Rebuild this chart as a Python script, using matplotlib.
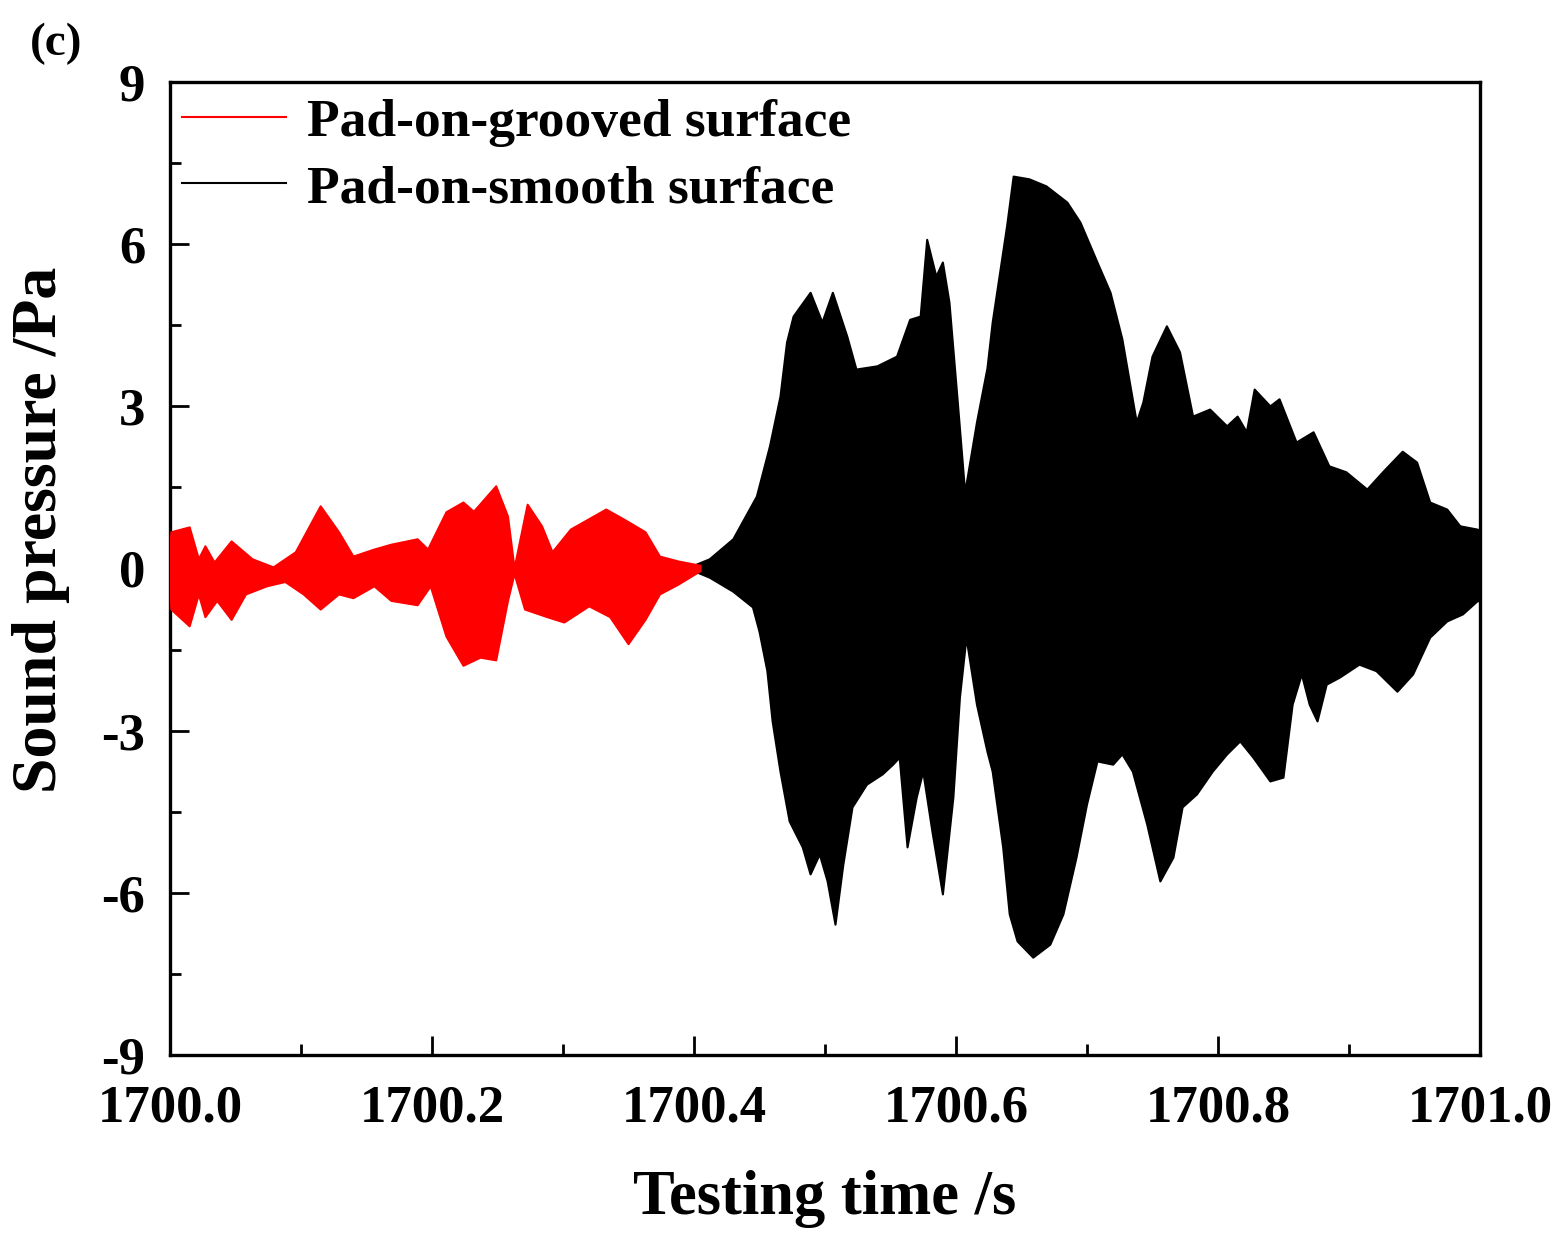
import numpy as np
import matplotlib
matplotlib.use('Agg')
import matplotlib.pyplot as plt
from matplotlib.lines import Line2D
from matplotlib.ticker import MultipleLocator

# envelope of the pad-on-grooved signal (time offset from 1700 s, Pa)
red_t_up = [0.000, 0.001, 0.015, 0.022, 0.027, 0.034, 0.047, 0.063, 0.079, 0.096, 0.115,
            0.129, 0.140, 0.156, 0.169, 0.189, 0.197, 0.211, 0.224, 0.232, 0.249,
            0.258, 0.263, 0.273, 0.284, 0.292, 0.306, 0.333, 0.347, 0.363, 0.374,
            0.388, 0.405]
red_v_up = [0.30, 0.67, 0.76, 0.17, 0.41, 0.11, 0.50, 0.17, 0.02, 0.30, 1.15,
            0.67, 0.22, 0.35, 0.44, 0.54, 0.35, 1.04, 1.22, 1.05, 1.52,
            0.96, 0.00, 1.18, 0.78, 0.30, 0.72, 1.09, 0.90, 0.67, 0.22,
            0.13, 0.05]
red_t_lo = [0.000, 0.001, 0.015, 0.022, 0.027, 0.036, 0.047, 0.058, 0.074, 0.088, 0.102,
            0.115, 0.129, 0.140, 0.156, 0.169, 0.189, 0.199, 0.211, 0.224, 0.237,
            0.249, 0.258, 0.263, 0.271, 0.288, 0.301, 0.320, 0.336, 0.350, 0.363,
            0.374, 0.388, 0.405]
red_v_lo = [-0.30, -0.76, -1.07, -0.48, -0.90, -0.60, -0.95, -0.48, -0.33, -0.25, -0.48,
            -0.76, -0.48, -0.55, -0.33, -0.60, -0.68, -0.33, -1.26, -1.80, -1.65,
            -1.70, -0.60, -0.10, -0.76, -0.90, -1.00, -0.70, -0.90, -1.40, -0.95,
            -0.48, -0.30, -0.05]

# envelope of the pad-on-smooth signal
blk_t_up = [0.400, 0.412, 0.430, 0.448, 0.458, 0.466, 0.471, 0.476, 0.489, 0.498, 0.506,
            0.517, 0.524, 0.540, 0.555, 0.565, 0.573, 0.578, 0.585, 0.590, 0.595,
            0.601, 0.607, 0.616, 0.624, 0.628, 0.639, 0.644, 0.656, 0.669, 0.685,
            0.695, 0.708, 0.718, 0.727, 0.738, 0.743, 0.750, 0.761, 0.771, 0.781,
            0.794, 0.807, 0.815, 0.822, 0.828, 0.840, 0.847, 0.860, 0.873, 0.885,
            0.898, 0.914, 0.926, 0.941, 0.952, 0.962, 0.975, 0.985, 0.998, 1.000]
blk_v_up = [0.05, 0.17, 0.54, 1.33, 2.26, 3.18, 4.18, 4.66, 5.10, 4.55, 5.10,
            4.29, 3.68, 3.74, 3.92, 4.60, 4.66, 6.08, 5.40, 5.66, 4.92,
            3.18, 1.40, 2.70, 3.70, 4.55, 6.33, 7.25, 7.20, 7.07, 6.77,
            6.40, 5.66, 5.10, 4.24, 2.70, 3.07, 3.92, 4.48, 4.00, 2.81,
            2.94, 2.63, 2.81, 2.52, 3.31, 3.00, 3.13, 2.33, 2.52, 1.89,
            1.78, 1.46, 1.78, 2.16, 1.96, 1.22, 1.09, 0.78, 0.72, 0.70]
blk_t_lo = [0.400, 0.412, 0.430, 0.445, 0.450, 0.456, 0.460, 0.466, 0.473, 0.483, 0.489,
            0.496, 0.502, 0.508, 0.514, 0.521, 0.532, 0.544, 0.552, 0.557, 0.563,
            0.570, 0.575, 0.582, 0.590, 0.598, 0.603, 0.608, 0.616, 0.624, 0.628,
            0.636, 0.641, 0.647, 0.659, 0.672, 0.682, 0.692, 0.700, 0.708, 0.720,
            0.727, 0.735, 0.746, 0.756, 0.766, 0.773, 0.784, 0.796, 0.807, 0.817,
            0.827, 0.840, 0.850, 0.857, 0.864, 0.870, 0.876, 0.883, 0.893, 0.908,
            0.921, 0.937, 0.949, 0.962, 0.975, 0.987, 0.998, 1.000]
blk_v_lo = [-0.05, -0.17, -0.43, -0.72, -1.17, -1.90, -2.83, -3.76, -4.68, -5.16, -5.66,
            -5.29, -5.79, -6.59, -5.48, -4.42, -4.00, -3.81, -3.63, -3.50, -5.16,
            -4.24, -3.76, -4.87, -6.03, -4.24, -2.39, -1.28, -2.52, -3.39, -3.76,
            -5.16, -6.40, -6.90, -7.20, -6.96, -6.40, -5.35, -4.37, -3.57, -3.63,
            -3.44, -3.76, -4.74, -5.79, -5.35, -4.42, -4.18, -3.76, -3.44, -3.20,
            -3.50, -3.94, -3.87, -2.52, -1.96, -2.52, -2.83, -2.15, -2.02, -1.78,
            -1.90, -2.28, -1.96, -1.28, -0.98, -0.85, -0.61, -0.60]

labels = ['Pad-on-grooved surface', 'Pad-on-smooth surface']
colors = ['#ff0000', '#000000']
t0 = 1700.0

plt.rcParams['font.family'] = 'Liberation Serif'
plt.rcParams['font.weight'] = 'bold'

fig = plt.figure(figsize=(15.6, 12.33), dpi=100)
ax = fig.add_axes([0.109, 0.1444, 0.8397, 0.7891])

for tu, vu, tl, vl, c in [(red_t_up, red_v_up, red_t_lo, red_v_lo, colors[0]),
                          (blk_t_up, blk_v_up, blk_t_lo, blk_v_lo, colors[1])]:
    xs = np.r_[np.array(tu), np.array(tl)[::-1]] + t0
    ys = np.r_[vu, vl[::-1]]
    ax.fill(xs, ys, facecolor=c, edgecolor=c, linewidth=1.5,
            joinstyle='round', zorder=2 if c == '#000000' else 3)

ax.set_xlim(1700.0, 1701.0)
ax.set_ylim(-9, 9)
ax.xaxis.set_major_locator(MultipleLocator(0.2))
ax.xaxis.set_minor_locator(MultipleLocator(0.1))
ax.yaxis.set_major_locator(MultipleLocator(3))
ax.yaxis.set_minor_locator(MultipleLocator(1.5))
ax.xaxis.set_major_formatter(plt.FuncFormatter(lambda v, p: f'{v:.1f}'))
ax.yaxis.set_major_formatter(plt.FuncFormatter(lambda v, p: f'{v:.0f}'))

ax.tick_params(which='both', direction='in', width=2, labelsize=38)
ax.tick_params(which='major', length=14)
ax.tick_params(which='minor', length=8)
ax.tick_params(axis='x', pad=21)
ax.tick_params(axis='y', pad=18)
for s in ax.spines.values():
    s.set_linewidth(2.4)

ax.set_xlabel('Testing time /s', fontsize=45, fontweight='bold', labelpad=27)
ax.set_ylabel('Sound pressure /Pa', fontsize=46, fontweight='bold')
ax.yaxis.set_label_coords(-0.076, 0.54)

handles = [Line2D([], [], color=colors[0], lw=1.5), Line2D([], [], color=colors[1], lw=1.5)]
ax.legend(handles, labels, loc='upper left', frameon=False, fontsize=38.5,
          handlelength=1.95, handletextpad=0.38, labelspacing=0.33,
          borderaxespad=0.0, borderpad=0.2, bbox_to_anchor=(0.001, 0.994))

fig.text(0.019, 0.955, '(c)', fontsize=34, fontweight='bold')

fig.savefig('out.png', dpi=100)
